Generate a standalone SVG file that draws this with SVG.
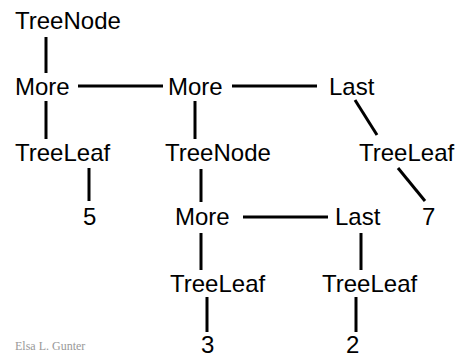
<svg xmlns="http://www.w3.org/2000/svg" width="460" height="358" viewBox="0 0 460 358">
<style>
text{font-family:"Liberation Sans",Arial,sans-serif;font-size:24px;fill:#000}
.ft{font-family:"Liberation Serif","Times New Roman",serif;font-size:12px;fill:#999}
line{stroke:#000;stroke-width:3}
</style>
<rect width="460" height="358" fill="#fff"/>
<g id="connectors">
<line x1="46" y1="37" x2="46" y2="73"/>
<line x1="46" y1="101" x2="46" y2="139"/>
<line x1="89" y1="168" x2="89" y2="201"/>
<line x1="78" y1="86" x2="163" y2="86"/>
<line x1="232" y1="86" x2="317" y2="86"/>
<line x1="195" y1="101" x2="195" y2="139"/>
<line x1="355" y1="100" x2="377" y2="135"/>
<line x1="398" y1="168" x2="425" y2="201"/>
<line x1="201" y1="169" x2="201" y2="202"/>
<line x1="243" y1="217" x2="328" y2="217"/>
<line x1="201" y1="233" x2="201" y2="270"/>
<line x1="361" y1="233" x2="361" y2="270"/>
<line x1="207" y1="297" x2="207" y2="332"/>
<line x1="356" y1="297" x2="356" y2="332"/>
</g>
<g id="treenode1"><text x="15" y="29">TreeNode</text></g>
<g id="more1"><text x="15" y="95">More</text></g>
<g id="more2"><text x="168" y="95">More</text></g>
<g id="last1"><text x="329" y="95">Last</text></g>
<g id="treeleaf1"><text x="15" y="161">TreeLeaf</text></g>
<g id="treenode2"><text x="165" y="161">TreeNode</text></g>
<g id="treeleaf3"><text x="359" y="161">TreeLeaf</text></g>
<g id="five"><text x="83" y="225">5</text></g>
<g id="more3"><text x="175" y="225">More</text></g>
<g id="last2"><text x="335" y="225">Last</text></g>
<g id="seven"><text x="422" y="225">7</text></g>
<g id="treeleaf4"><text x="170" y="292">TreeLeaf</text></g>
<g id="treeleaf5"><text x="322" y="292">TreeLeaf</text></g>
<g id="three"><text x="201" y="353">3</text></g>
<g id="two"><text x="346" y="353">2</text></g>
<text class="ft" x="15" y="350">Elsa L. Gunter</text>
</svg>
